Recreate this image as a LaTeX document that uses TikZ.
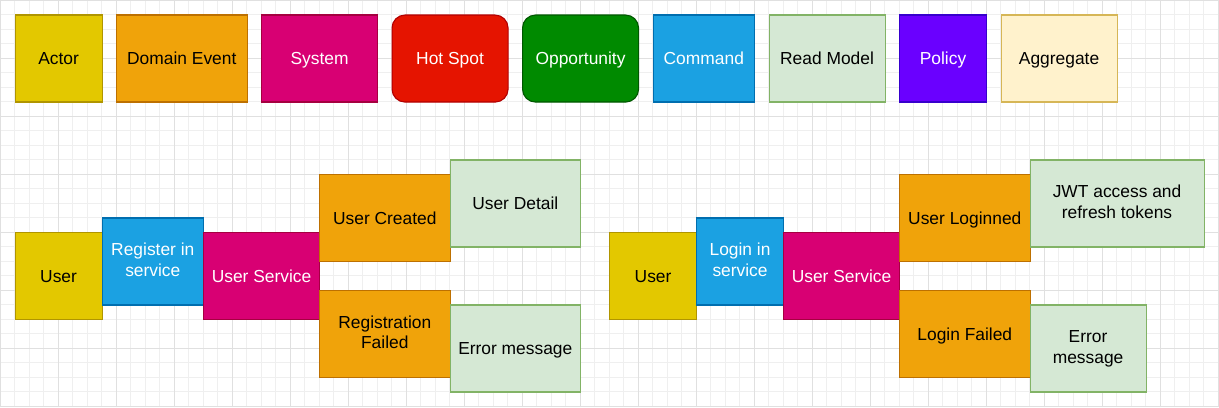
\documentclass[tikz,border=0pt]{standalone}
\usepackage{fontspec}
\setmainfont{Liberation Sans}
\newcommand\mystrut{\rule[-0.212em]{0pt}{1.117em}}
\newcommand\mltopstrut{\rule{0pt}{1.022em}}
\definecolor{actorF}{HTML}{E3C800}\definecolor{actorS}{HTML}{B09500}
\definecolor{eventF}{HTML}{F0A30A}\definecolor{eventS}{HTML}{BD7000}
\definecolor{systemF}{HTML}{D80073}\definecolor{systemS}{HTML}{A50040}
\definecolor{hotF}{HTML}{E51400}\definecolor{hotS}{HTML}{B20000}
\definecolor{oppF}{HTML}{008A00}\definecolor{oppS}{HTML}{005700}
\definecolor{cmdF}{HTML}{1BA1E2}\definecolor{cmdS}{HTML}{006EAF}
\definecolor{readF}{HTML}{D5E8D4}\definecolor{readS}{HTML}{82B366}
\definecolor{policyF}{HTML}{6A00FF}\definecolor{policyS}{HTML}{3700CC}
\definecolor{aggF}{HTML}{FFF2CC}\definecolor{aggS}{HTML}{D6B656}
\definecolor{gridMinor}{HTML}{EFEFEF}\definecolor{gridMajor}{HTML}{E0E0E0}
\tikzset{
  box/.style={rectangle, draw, line width=1.1pt, inner sep=2pt, align=center,
    anchor=north west, font=\fontsize{17.07}{20.3}\selectfont,
    execute at begin node=\mystrut, execute at end node=\mystrut},
  twolines/.style={execute at begin node=\mltopstrut},
  sz/.style 2 args={minimum width=#1*0.5cm, minimum height=#2*0.5cm},
  actor/.style={box, fill=actorF, draw=actorS, text=black},
  event/.style={box, fill=eventF, draw=eventS, text=black},
  system/.style={box, fill=systemF, draw=systemS, text=white},
  hotspot/.style={box, fill=hotF, draw=hotS, text=white, rounded corners=12.7pt},
  opportunity/.style={box, fill=oppF, draw=oppS, text=white, rounded corners=12.7pt},
  command/.style={box, fill=cmdF, draw=cmdS, text=white},
  readmodel/.style={box, fill=readF, draw=readS, text=black},
  policy/.style={box, fill=policyF, draw=policyS, text=white},
  aggregate/.style={box, fill=aggF, draw=aggS, text=black},
  minorgrid/.style={draw=gridMinor, line width=0.7pt},
  majorgrid/.style={draw=gridMajor, line width=0.8pt},
}
\begin{document}
\begin{tikzpicture}[x=0.5cm, y=-0.5cm]
\useasboundingbox (0,0) rectangle (84.07,28.07);
\fill[white] (0,0) rectangle (84.07,28.07);
\draw[minorgrid, step=0.5cm] (0,0) grid (84.07,28.07);
\draw[majorgrid, step=2cm] (0,0) grid (84.07,28.07);

% legend
\node[actor, sz={6}{6}] (lActor) at (1,1) {Actor};
\node[event, sz={9}{6}] (lEvent) at (8,1) {Domain Event};
\node[system, sz={8}{6}] (lSystem) at (18,1) {System};
\node[hotspot, sz={8}{6}] (lHot) at (27,1) {Hot Spot};
\node[opportunity, sz={8}{6}] (lOpp) at (36,1) {Opportunity};
\node[command, sz={7}{6}] (lCmd) at (45,1) {Command};
\node[readmodel, sz={8}{6}] (lRead) at (53,1) {Read Model};
\node[policy, sz={6}{6}] (lPolicy) at (62,1) {Policy};
\node[aggregate, sz={8}{6}] (lAgg) at (69,1) {Aggregate};

% registration flow
\node[actor, sz={6}{6}] (rUser) at (1,16) {User};
\node[command, twolines, sz={7}{6}] (rCmd) at (7,15) {Register in\\service};
\node[system, sz={8}{6}] (rSys) at (14,16) {User Service};
\node[event, sz={9}{6}] (rCreated) at (22,12) {User Created};
\node[readmodel, sz={9}{6}] (rDetail) at (31,11) {User Detail};
\node[event, twolines, sz={9}{6}] (rFailed) at (22,20) {Registration\\Failed};
\node[readmodel, sz={9}{6}] (rError) at (31,21) {Error message};

% login flow
\node[actor, sz={6}{6}] (lgUser) at (42,16) {User};
\node[command, twolines, sz={6}{6}] (lgCmd) at (48,15) {Login in\\service};
\node[system, sz={8}{6}] (lgSys) at (54,16) {User Service};
\node[event, sz={9}{6}] (lgOk) at (62,12) {User Loginned};
\node[readmodel, twolines, sz={12}{6}] (lgJwt) at (71,11) {JWT access and\\refresh tokens};
\node[event, sz={9}{6}] (lgFailed) at (62,20) {Login Failed};
\node[readmodel, twolines, sz={8}{6}] (lgError) at (71,21) {Error\\message};
\end{tikzpicture}
\end{document}
